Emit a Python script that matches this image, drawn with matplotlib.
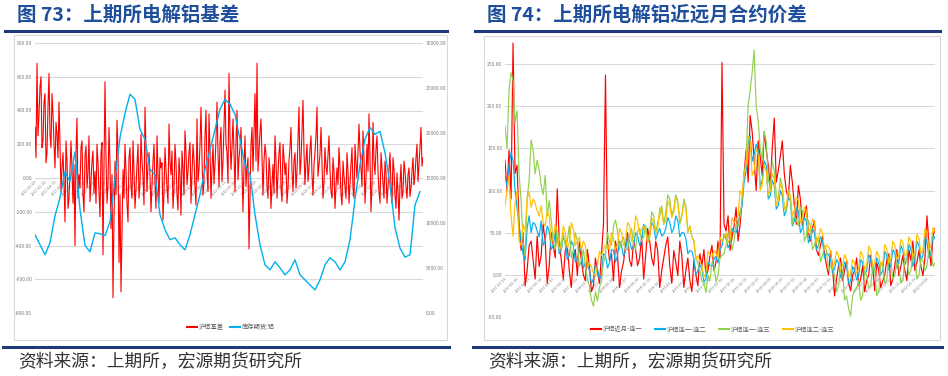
import matplotlib
matplotlib.use('Agg')
import matplotlib.pyplot as plt
from matplotlib.lines import Line2D
from matplotlib.patches import Rectangle
import pandas as pd

plt.rcParams['font.family'] = ['Noto Sans CJK SC', 'DejaVu Sans']

# ---------------- data: left chart ----------------
basis = [300, 120, 680, 250, 380, 540, 600, 180, 220, 450, 500, 90, 150, 420, 620, 260, 180, 500, 380,
         200, 60, 330, 260, 120, 450, 200, -80, 60, 150, -30, -260, 220, 100, -180, -120, 40, 220, 60, -150,
         80, -400, 150, 355, -120, 20, -60, 180, 220, -100, -200, 130, 190, -60, 30, 250, -140, -20, 100, 160,
         -90, 40, -150, 200, 90, -80, -230, 150, 210, -455, 60, 570, 120, -150, -40, 300, 80, -300, 20, -710,
         -250, 100, -100, 343, 150, -500, -100, -675, -300, 50, -120, 200, 40, -150, -260, 120, 180, -50, -120, 220,
         40, -180, -60, 80, 200, -120, -30, 260, 100, 0, -160, 420, 160, -80, 80, 150, 20, -200, -40, 100,
         200, -40, -180, 250, 30, -150, 120, 60, 90, -250, -80, 180, 50, -60, -150, 320, 100, 20, 160, -180,
         -60, 200, 90, -100, -190, 120, 20, -220, 160, 60, -100, 280, 150, -40, 40, 150, 210, -150, 30, 200,
         110, -60, -160, 350, -20, 50, 200, 420, 120, -100, -20, 250, 400, 30, -80, 380, 160, -120, 60, 200,
         -30, 80, 230, 450, 150, -50, 210, 300, -20, 100, 310, 520, 200, 150, -30, 620, 250, 50, 180, 350,
         150, -80, 220, 400, -10, 120, 180, 300, 60, -200, 70, 250, -50, 60, 120, -420, -100, 200, 300, 40,
         260, 500, 100, 680, 40, 150, 270, 350, 130, -100, 100, 200, 140, -50, -120, 120, 40, -180, -40, 80,
         -90, 250, 100, -120, 30, 150, 210, -60, -140, 200, 120, 20, 90, -150, -60, 100, 180, 300, 40, -80,
         100, 150, -60, 40, 220, 420, 20, 100, 280, 460, 150, -40, 100, 200, -20, 60, 170, 250, 20, -100,
         80, 150, 250, 420, 10, 80, 140, 300, 80, -120, -20, 180, 70, 20, 140, 250, 50, -80, -120, 120,
         40, -180, -50, 60, -40, 180, 60, -100, -160, 100, 10, -50, -120, 150, 40, -150, -30, 80, 180, -60,
         -120, 200, 90, 0, 150, 320, 160, 50, -50, 280, 120, -150, 0, 200, 40, 380, 120, -200, -40, 330,
         100, 20, 170, 250, 40, -80, -150, 150, 60, -20, -120, 100, 30, -150, -50, 60, 150, -60, -150, 120,
         50, -100, -180, 30, -80, -250, -40, 80, -120, -80, 100, 40, -50, -120, 20, 60, -110, -60, 40, 120,
         -40, 20, 120, 200, -20, 80, 180, 300, 70, 120]

inventory = [8700, 7580, 6470, 7800, 10800, 12820, 15720, 14610, 17900, 11500,
             7500, 6800, 8900, 8800, 8600, 10150, 15000, 19510, 22200, 24310,
             23750, 20400, 19290, 15950, 15390, 10930, 9250, 8140, 8360, 7580,
             7020, 8700, 10930, 13160, 15950, 18170, 20400, 22630, 23750, 23190,
             22080, 19290, 16500, 15390, 10930, 7580, 5350, 4790, 5690, 5020,
             4240, 4790, 5910, 4240, 3680, 3120, 2560, 3680, 5350, 6130,
             5690, 4790, 5690, 8140, 12600, 16500, 19290, 20630, 19850, 20180,
             17800, 14270, 9480, 7200, 6200, 6470, 12000, 13490]

basis_dates = pd.date_range('2017-01-03', periods=len(basis), freq='5D')
inv_dates = pd.date_range('2017-01-03', periods=len(inventory), freq='25D')

left_yticks = [-800, -600, -400, -200, 0, 200, 400, 600, 800]
right_yticks = [0, 5000, 10000, 15000, 20000, 25000, 30000]

# ---------------- data: right chart ----------------
spread_m1 = [136, 100, 148, 90, 275, 120, 130, 60, 29, 50, -13, 5, 35, 40, 17, -5, 46, 10, 23,
             60, 40, -10, 11, 50, 35, 20, 102, 40, 17, -5, 29, 35, 5, -15, 23, 30, -1, 40, 17,
             0, -7, 30, 11, -20, -13, 20, 5, -10, 23, 60, 237, 40, 17, 25, -7, 40, 23, -15, 5,
             15, 35, 50, 17, 10, 40, 30, 11, 20, 46, -5, 23, 55, 40, 20, 11, 40, 29, -15, 5,
             20, 35, 45, 11, -10, 29, 15, -1, 40, 23, -15, 5, 20, -7, -20, 17, 0, -13, 25, 11,
             30, -1, 5, 23, 35, 5, 15, 40, 20, 252, 60, 52, 70, 29, 45, 58, 80, 40, 60, 88,
             120, 148, 110, 189, 170, 136, 100, 159, 140, 118, 170, 148, 130, 106, 150, 186, 110, 124, 140, 159,
             120, 100, 90, 130, 110, 82, 60, 106, 90, 58, 70, 82, 50, 40, 55, 64, 30, 23, 35, 46,
             25, 11, 0, 29, 10, -25, -5, 11, 20, -7, 5, 17, -10, -19, 0, 5, 20, -13, -5, 11,
             -20, -7, 0, 23, 10, -19, 15, 5, -15, -7, 0, 17, 25, -13, -5, 11, 30, -1, 10, 23,
             5, -7, 30, 17, 40, 5, 15, 29, 10, -1, 20, 70, 35, 11, 45, 55]

spread_12 = [118, 105, 130, 145, 136, 100, 79, 60, 40, 25, 17, 55, 70, 50, 62, 60, 52, 45, 64,
             35, 40, 58, 52, 30, 35, 50, 46, 25, 29, 45, 40, 18, 23, 40, 35, 15, 19, 32, 29,
             8, 14, 15, 5, -10, -5, 12, 7, -5, -1, 25, 23, 8, 14, 30, 29, 15, 23, 40, 35,
             22, 29, 45, 40, 30, 35, 50, 46, 35, 40, 60, 55, 40, 46, 62, 58, 42, 50, 55, 46,
             48, 55, 68, 62, 50, 55, 70, 64, 45, 50, 50, 43, 25, 29, 28, 19, 0, 5, 12, 7,
             -8, -5, 15, 11, 10, 19, 22, 14, 30, 35, 48, 43, 32, 38, 55, 52, 50, 58, 75, 82,
             110, 124, 160, 165, 135, 143, 155, 148, 105, 112, 135, 130, 90, 94, 112, 106, 78, 82, 100, 94,
             70, 76, 92, 88, 58, 64, 80, 76, 50, 55, 68, 64, 38, 43, 55, 50, 30, 35, 45, 40,
             20, 26, 24, 19, 2, 7, 18, 14, -3, 2, 15, 11, -10, -7, 10, 5, -6, -1, 18, 14,
             0, 5, 24, 19, 2, 7, 20, 14, 0, 5, 28, 23, 6, 11, 30, 26, 8, 14, 35, 29,
             12, 19, 36, 31, 10, 17, 40, 35, 18, 23, 45, 40, 20, 26, 48, 43]

spread_13 = [177, 150, 219, 240, 231, 180, 195, 120, 88, 40, 23, 90, 112, 160, 148, 120, 136, 125, 106,
             95, 118, 70, 88, 65, 40, 30, 52, 45, 29, 50, 35, 40, 58, 20, 29, 50, 40, 10, 17,
             30, 11, -5, -13, -30, -37, -20, -31, -15, -7, 15, 23, 50, 40, 35, 58, 65, 52, 30, 40,
             45, 29, 30, 46, 55, 35, 30, 52, 55, 40, 45, 58, 40, 50, 75, 70, 50, 62, 70, 82,
             60, 74, 95, 90, 70, 79, 95, 88, 60, 70, 90, 82, 50, 58, 45, 40, 20, 14, 5, -7,
             -10, -21, 0, -7, 15, 11, -8, -1, 20, 23, 25, 35, 50, 46, 30, 40, 60, 58, 70, 88,
             120, 136, 200, 219, 240, 267, 200, 183, 150, 136, 170, 159, 115, 100, 135, 124, 95, 88, 115, 106,
             80, 76, 100, 94, 60, 70, 65, 58, 80, 76, 40, 46, 65, 58, 30, 35, 45, 40, 15, 23,
             35, 29, 5, 11, 10, -1, -20, -13, 10, 5, -30, -25, -40, -49, -25, -19, -15, -7, -30, -25,
             5, -1, -15, -13, 10, 5, -25, -19, 15, 11, -10, -7, 20, 17, -5, -1, 15, 11, -10, -7,
             20, 17, 0, 5, 25, 23, -5, -1, 20, 17, 5, 11, 30, 29, 10, 14]

spread_23 = [82, 100, 118, 70, 46, 85, 100, 40, 35, 60, 52, 90, 98, 80, 90, 85, 76, 70, 82,
             62, 58, 75, 70, 38, 43, 60, 52, 30, 35, 58, 50, 32, 38, 62, 55, 35, 40, 45, 29,
             40, 35, 8, 14, 10, 2, -2, 11, 28, 23, 30, 35, 35, 29, 50, 43, 30, 35, 55, 50,
             35, 40, 62, 58, 40, 46, 70, 64, 48, 55, 58, 52, 38, 43, 68, 62, 50, 55, 80, 74,
             60, 64, 88, 82, 68, 74, 92, 86, 65, 70, 85, 79, 52, 58, 45, 40, 18, 23, 15, 11,
             -3, 2, 28, 23, 22, 29, 25, 19, 45, 40, 44, 50, 38, 43, 68, 62, 65, 70, 100, 94,
             120, 130, 165, 159, 118, 124, 150, 143, 100, 106, 130, 124, 95, 100, 120, 114, 82, 88, 108, 102,
             78, 82, 98, 94, 70, 76, 92, 88, 62, 67, 80, 76, 50, 55, 66, 62, 38, 43, 55, 50,
             30, 35, 33, 29, 8, 14, 28, 23, 5, 11, 24, 19, -3, 2, 18, 14, 2, 7, 28, 23,
             6, 11, 34, 29, 10, 14, 28, 23, 10, 14, 36, 31, 14, 19, 40, 35, 18, 23, 42, 38,
             22, 26, 45, 40, 22, 26, 48, 43, 25, 29, 55, 50, 30, 35, 56, 52]

spread_yticks = [-50, 0, 50, 100, 150, 200, 250]

left_labels = ['沪铝基差', '库存期货:铝']
right_labels = ['沪铝近月-连一', '沪铝连一-连二', '沪铝连一-连三', '沪铝连二-连三']

RED, BLUE, GREEN, YELLOW = '#FF0000', '#00B0F0', '#92D050', '#FFC000'
GRID = '#D9D9D9'
TICKC = '#7F7F7F'
TITLEC = '#1F4E9A'
RULEC = '#1F3A78'

W, H = 948, 376
fig = plt.figure(figsize=(9.48, 3.76), dpi=100)


def fx(px):
    return px / W


def fy(py):
    return 1 - py / H


# chart frames
fig.add_artist(Rectangle((fx(14), fy(340)), fx(447) - fx(14), fy(35) - fy(340),
                         fill=False, ec=GRID, lw=0.8))
fig.add_artist(Rectangle((fx(484), fy(340)), fx(940) - fx(484), fy(36) - fy(340),
                         fill=False, ec=GRID, lw=0.8))

# rules
for x0, x1 in [(5, 447), (475, 940)]:
    fig.add_artist(Line2D([fx(x0), fx(x1)], [fy(31), fy(31)], color=RULEC, lw=2.2))
    fig.add_artist(Line2D([fx(x0 - 2), fx(x1 + 2)], [fy(347), fy(347)], color=RULEC, lw=2.2))

# titles
fig.text(fx(17), fy(15), '图 73：上期所电解铝基差', fontsize=14, fontweight='bold',
         color=TITLEC, ha='left', va='center')
fig.text(fx(487), fy(15), '图 74：上期所电解铝近远月合约价差', fontsize=14, fontweight='bold',
         color=TITLEC, ha='left', va='center')

# sources
for x0 in (18, 488):
    fig.text(fx(x0), fy(362), '资料来源：上期所，宏源期货研究所', fontsize=12.8,
             color='#333333', ha='left', va='center', style='italic')


def style_axis(a):
    for s in a.spines.values():
        s.set_visible(False)
    a.tick_params(length=0)


def rotate_dates(a):
    for t in a.get_xticklabels():
        t.set_rotation(45)
        t.set_ha('right')
        t.set_va('top')
        t.set_rotation_mode('anchor')


# ---------------- left chart ----------------
ax = fig.add_axes([fx(35), fy(313), fx(423) - fx(35), fy(43) - fy(313)])
ax.plot(basis_dates, basis, color=RED, lw=0.8)
ax.set_ylim(-800, 800)
ax.set_yticks(left_yticks)
ax.set_yticklabels([f'{v:.2f}' for v in left_yticks])
ax.set_xlim(basis_dates[0], basis_dates[-1])
ax.grid(axis='y', color=GRID, lw=0.8)
ax.set_axisbelow(True)
style_axis(ax)
ax.spines['bottom'].set_position(('data', 0))
ax.tick_params(axis='y', labelsize=3.6, labelcolor=TICKC, pad=2)
ax.set_xticks(basis_dates[::10])
ax.set_xticklabels([d.strftime('%Y-%m-%d') for d in basis_dates[::10]])
ax.tick_params(axis='x', labelsize=2.8, labelcolor=TICKC, pad=1)
rotate_dates(ax)

ax2 = ax.twinx()
ax2.plot(inv_dates, inventory, color=BLUE, lw=1.0)
ax2.set_ylim(0, 30000)
ax2.set_yticks(right_yticks)
ax2.set_yticklabels([f'{v:.2f}' for v in right_yticks])
style_axis(ax2)
ax2.tick_params(axis='y', labelsize=3.6, labelcolor=TICKC, pad=2)

h_left = [Line2D([], [], color=RED, lw=1.5), Line2D([], [], color=BLUE, lw=1.5)]
fig.legend(h_left, left_labels, loc='center', bbox_to_anchor=(fx(231), fy(327)),
           ncol=2, fontsize=4.5, frameon=False, handlelength=1.6, handletextpad=0.3,
           columnspacing=1.0, labelcolor='#595959')

# ---------------- right chart ----------------
bx = fig.add_axes([fx(505), fy(317), fx(935) - fx(505), fy(40) - fy(317)])
series = [(spread_m1, RED), (spread_12, BLUE), (spread_13, GREEN), (spread_23, YELLOW)]
for vals, col in series:
    d = pd.date_range('2017-01-03', periods=len(vals), freq='9D')
    bx.plot(d, vals, color=col, lw=0.85)
spread_dates = pd.date_range('2017-01-03', periods=len(spread_m1), freq='9D')
bx.set_ylim(-50, 278.6)
bx.set_yticks(spread_yticks)
bx.set_yticklabels([f'{v:.2f}' for v in spread_yticks])
bx.set_xlim(spread_dates[0], spread_dates[-1])
bx.grid(axis='y', color=GRID, lw=0.8)
bx.set_axisbelow(True)
style_axis(bx)
bx.spines['bottom'].set_position(('data', 0))
bx.tick_params(axis='y', labelsize=3.6, labelcolor=TICKC, pad=2)
bx.set_xticks(spread_dates[::6])
bx.set_xticklabels([d.strftime('%Y-%m-%d') for d in spread_dates[::6]])
bx.tick_params(axis='x', labelsize=2.8, labelcolor=TICKC, pad=1)
rotate_dates(bx)

h_right = [Line2D([], [], color=c, lw=1.5) for c in (RED, BLUE, GREEN, YELLOW)]
fig.legend(h_right, right_labels, loc='center', bbox_to_anchor=(fx(713), fy(329)),
           ncol=4, fontsize=4.5, frameon=False, handlelength=1.6, handletextpad=0.3,
           columnspacing=2.0, labelcolor='#595959')

fig.savefig('out.png', dpi=100)
